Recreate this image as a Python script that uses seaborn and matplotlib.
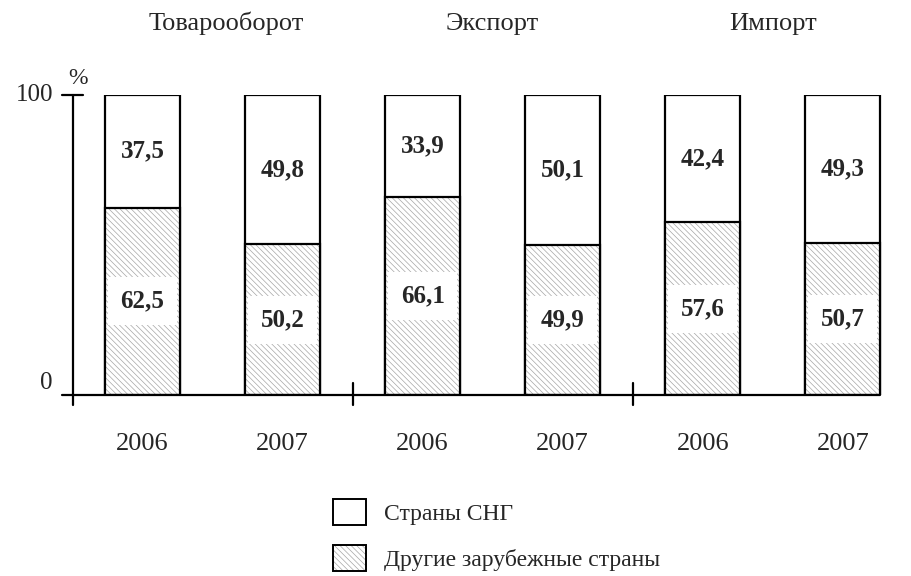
import pandas as pd
import matplotlib.pyplot as plt
import seaborn as sns
from matplotlib.patches import Patch
from matplotlib.legend_handler import HandlerTuple

# Структура товарооборота, экспорта и импорта (%)
groups = ['Товарооборот', 'Экспорт', 'Импорт']
years = ['2006', '2007']
cis_share = [37.5, 49.8, 33.9, 50.1, 42.4, 49.3]
other_share = [62.5, 50.2, 66.1, 49.9, 57.6, 50.7]
legend_labels = ['Страны СНГ', 'Другие зарубежные страны']

df = pd.DataFrame({
    'bar': [f'{g} {y}' for g in groups for y in years],
    'year': years * len(groups),
    'cis': cis_share,
    'other': other_share,
})
df['total'] = df['cis'] + df['other']

sns.set_style('white')
plt.rcParams['font.family'] = ['Liberation Serif', 'DejaVu Serif']
plt.rcParams['hatch.linewidth'] = 0.5

fig = plt.figure(figsize=(9.12, 5.76), dpi=100)
ax = fig.add_axes([62 / 912, 181 / 576, 820 / 912, 300 / 576])

W = 0.536
HATCH = '\\' * 6
HATCH_COLOR = '#a6a6a6'

# full bar (CIS on top), then hatched "other" part, then its outline
sns.barplot(data=df, x='bar', y='total', color='white', edgecolor='black',
            linewidth=1.6, width=W, errorbar=None, ax=ax)
sns.barplot(data=df, x='bar', y='other', color='white', edgecolor=HATCH_COLOR,
            linewidth=0, hatch=HATCH, width=W, errorbar=None, ax=ax)
sns.barplot(data=df, x='bar', y='other', color='black', fill=False,
            linewidth=1.6, width=W, errorbar=None, ax=ax)

def fmt(v):
    return f'{v:.1f}'.replace('.', ',')

for i, row in df.iterrows():
    ax.text(i, row['other'] + row['cis'] / 2, fmt(row['cis']), ha='center', va='center',
            fontsize=18, fontweight='bold')
    ax.text(i, row['other'] / 2, fmt(row['other']), ha='center', va='center',
            fontsize=18, fontweight='bold',
            bbox=dict(facecolor='white', edgecolor='none', boxstyle='square,pad=0.5'))

# axes drawn by hand (Word-style chart)
n = len(df)
x_end = n - 1 + W / 2
ax.set_xlim(-0.575, x_end + 0.012)
ax.set_ylim(0, 100)
sns.despine(ax=ax, left=True, bottom=True)
ax.plot([-0.575, x_end], [0, 0], color='black', lw=1.6, clip_on=False)
ax.plot([-0.5, -0.5], [100, -3.3], color='black', lw=1.6, clip_on=False)
ax.plot([-0.575, -0.425], [100, 100], color='black', lw=1.6, clip_on=False)
for k in range(1, len(groups)):
    xs = 2 * k - 0.5
    ax.plot([xs, xs], [4, -3.3], color='black', lw=1.6, clip_on=False)

ax.set_yticks([])
ax.set_xticks(range(n), df['year'])
ax.tick_params(axis='x', length=0, pad=27, labelsize=19)
ax.set_xlabel('')
ax.set_ylabel('')

ax.text(-0.64, 100, '100', ha='right', va='center', fontsize=18)
ax.text(-0.64, 4, '0', ha='right', va='center', fontsize=18)
ax.text(-0.46, 102, '%', ha='center', va='bottom', fontsize=17)

for k, g in enumerate(groups):
    ax.text(2 * k + 0.5 + (0.1 if k == 0 else 0), 121.7, g, ha='center', va='baseline', fontsize=19)

handles = [Patch(facecolor='white', edgecolor='black', linewidth=1.4),
           (Patch(facecolor='white', edgecolor=HATCH_COLOR, hatch=HATCH, linewidth=0),
            Patch(fill=False, edgecolor='black', linewidth=1.4))]
fig.legend(handles, legend_labels, loc='upper left', bbox_to_anchor=(333 / 912, 1 - 499 / 576),
           frameon=False, fontsize=17, handlelength=1.4, handleheight=1.3,
           handletextpad=0.75, labelspacing=0.85, borderpad=0, borderaxespad=0,
           handler_map={tuple: HandlerTuple(ndivide=1, pad=0)})

plt.savefig('out.png', dpi=100)
